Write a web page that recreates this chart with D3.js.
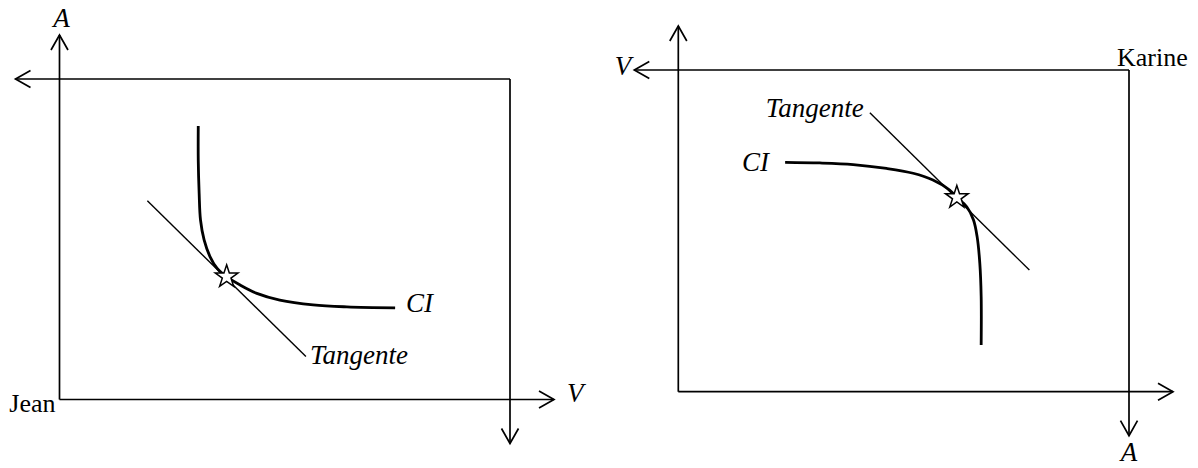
<!DOCTYPE html>
<html>
<head>
<meta charset="utf-8">
<script src="https://cdn.jsdelivr.net/npm/d3@7"></script>
<style>
    html, body { margin: 0; padding: 0; background: #fff; }
    svg { display: block; }
    .label { font-family: "Liberation Serif", "Times New Roman", serif; font-size: 26px; fill: #000; }
    .italic { font-style: italic; font-size: 27px; }
</style>
</head>
<body>
<script>
    'use strict';

    // Jean : origine en bas a gauche, V vers la droite, A vers le haut (0-100)
    var jeanCurveV = [30.8, 30.8, 31.0, 31.3, 32.1, 33.4, 35.0, 37.1, 40.1, 43.8, 48.9, 56.3, 63.8, 74.5];
    var jeanCurveA = [85.3, 74.6, 64.3, 56.0, 49.8, 44.6, 40.9, 38.3, 35.7, 33.1, 31.0, 29.5, 28.9, 28.6];
    var jeanTangentV = [19.5, 54.7];
    var jeanTangentA = [62.0, 13.4];
    var jeanStar = [37.1, 38.3];

    // Karine : origine en haut a droite, V vers la gauche, A vers le bas (0-100)
    var karineCurveV = [76.3, 68.6, 61.2, 53.8, 47.9, 43.5, 39.8, 38.2, 36.0, 34.5, 33.7, 33.1, 32.8, 32.8];
    var karineCurveA = [28.7, 28.9, 29.4, 30.6, 32.1, 34.2, 37.3, 39.6, 42.5, 46.6, 51.8, 60.1, 70.5, 85.5];
    var karineTangentV = [57.5, 22.1];
    var karineTangentA = [13.3, 62.2];
    var karineStar = [38.2, 39.6];

    var axisLabels = ['V', 'A'];
    var names = ['Jean', 'Karine'];
    var curveLabel = 'CI';
    var tangentLabel = 'Tangente';

    var width = 1198, height = 468;
    var overhang = 44;

    var svg = d3.select('body')
                .append('svg')
                .attr('width', width)
                .attr('height', height)
                .attr('viewBox', '0 0 ' + width + ' ' + height);

    svg.append('rect').attr('width', width).attr('height', height).attr('fill', '#fff');

    var jean = {
        x: d3.scaleLinear().domain([0, 100]).range([59.5, 510]),
        y: d3.scaleLinear().domain([0, 100]).range([399.5, 79]),
        curve: d3.zip(jeanCurveV, jeanCurveA),
        tangent: d3.zip(jeanTangentV, jeanTangentA),
        star: jeanStar
    };

    var karine = {
        x: d3.scaleLinear().domain([0, 100]).range([1129, 678.3]),
        y: d3.scaleLinear().domain([0, 100]).range([70, 391.7]),
        curve: d3.zip(karineCurveV, karineCurveA),
        tangent: d3.zip(karineTangentV, karineTangentA),
        star: karineStar
    };

    drawPanel(jean);
    drawPanel(karine);

    // etiquettes du panneau de Jean
    var jb = box(jean);
    label(jb.left + 2, jb.top - overhang - 8, axisLabels[1], 'middle', true);
    label(jb.right + overhang + 13, jb.bottom + 2, axisLabels[0], 'start', true);
    label(jb.left - 4, jb.bottom + 12.5, names[0], 'end', false);

    var jc = jean.curve[jean.curve.length - 1];
    label(jean.x(jc[0]) + 11, jean.y(jc[1]) + 4, curveLabel, 'start', true);
    var jt = jean.tangent[1];
    label(jean.x(jt[0]) + 4, jean.y(jt[1]) + 7, tangentLabel, 'start', true);

    // etiquettes du panneau de Karine
    var kb = box(karine);
    label(kb.left - overhang - 3, kb.top + 5, axisLabels[0], 'end', true);
    label(kb.right - 12, kb.top - 4, names[1], 'start', false);
    label(kb.right, kb.bottom + overhang + 25, axisLabels[1], 'middle', true);

    var kc = karine.curve[0];
    label(karine.x(kc[0]) - 16, karine.y(kc[1]) + 9, curveLabel, 'end', true);
    var kt = karine.tangent[0];
    label(karine.x(kt[0]) - 6, karine.y(kt[1]) + 4, tangentLabel, 'end', true);

    ////////////

    function box(p) {
        var xr = p.x.range(), yr = p.y.range();
        return {
            left: d3.min(xr), right: d3.max(xr),
            top: d3.min(yr), bottom: d3.max(yr)
        };
    }

    function drawPanel(p) {
        var b = box(p);
        var g = svg.append('g');

        // les quatre axes de la boite, chacun avec sa fleche
        axisArrow(g, [b.left, b.bottom], [b.left, b.top - overhang]);
        axisArrow(g, [b.left, b.bottom], [b.right + overhang, b.bottom]);
        axisArrow(g, [b.right, b.top], [b.left - overhang, b.top]);
        axisArrow(g, [b.right, b.top], [b.right, b.bottom + overhang]);

        var line = d3.line()
            .x(function(d) { return p.x(d[0]); })
            .y(function(d) { return p.y(d[1]); });

        g.append('path')
            .datum(p.tangent)
            .attr('d', line)
            .attr('fill', 'none')
            .attr('stroke', '#000')
            .attr('stroke-width', 1.4);

        g.append('path')
            .datum(p.curve)
            .attr('d', line.curve(d3.curveCatmullRom.alpha(0.5)))
            .attr('fill', 'none')
            .attr('stroke', '#000')
            .attr('stroke-width', 2.8);

        g.append('path')
            .attr('d', d3.symbol(d3.symbolStar, 160)())
            .attr('transform', 'translate(' + p.x(p.star[0]) + ',' + p.y(p.star[1]) + ')')
            .attr('fill', '#fff')
            .attr('stroke', '#000')
            .attr('stroke-width', 1.5)
            .attr('stroke-linejoin', 'miter');
    }

    function axisArrow(g, from, to) {
        var len = 15, half = 8.5;
        var angle = Math.atan2(to[1] - from[1], to[0] - from[0]);
        var cos = Math.cos(angle), sin = Math.sin(angle);

        g.append('line')
            .attr('x1', from[0]).attr('y1', from[1])
            .attr('x2', to[0]).attr('y2', to[1])
            .attr('stroke', '#000')
            .attr('stroke-width', 1.7);

        var bx = to[0] - len * cos, by = to[1] - len * sin;
        var head = d3.path();
        head.moveTo(bx - half * sin, by + half * cos);
        head.lineTo(to[0], to[1]);
        head.lineTo(bx + half * sin, by - half * cos);

        g.append('path')
            .attr('d', head.toString())
            .attr('fill', 'none')
            .attr('stroke', '#000')
            .attr('stroke-width', 1.7)
            .attr('stroke-linejoin', 'miter');
    }

    function label(x, y, text, anchor, italic) {
        svg.append('text')
            .attr('class', 'label' + (italic ? ' italic' : ''))
            .attr('x', x)
            .attr('y', y)
            .attr('text-anchor', anchor)
            .text(text);
    }
</script>
</body>
</html>
